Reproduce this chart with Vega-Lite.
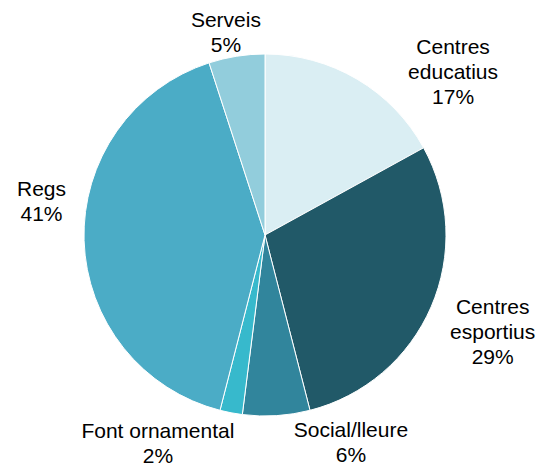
{
  "$schema": "https://vega.github.io/schema/vega-lite/v6.json",
  "width": 530,
  "height": 470,
  "autosize": "none",
  "padding": {"left": 0, "top": 0, "right": 7, "bottom": 0},
  "background": "white",
  "data": {
    "values": [
      {"cat": "Centres educatius", "label": ["Centres", "educatius", "17%"], "pct": 17, "ord": 1},
      {"cat": "Centres esportius", "label": ["Centres", "esportius", "29%"], "pct": 29, "ord": 2},
      {"cat": "Social/lleure", "label": ["Social/lleure", "6%"], "pct": 6, "ord": 3},
      {"cat": "Font ornamental", "label": ["Font ornamental", "2%"], "pct": 2, "ord": 4},
      {"cat": "Regs", "label": ["Regs", "41%"], "pct": 41, "ord": 5},
      {"cat": "Serveis", "label": ["Serveis", "5%"], "pct": 5, "ord": 6}
    ]
  },
  "transform": [
    {"stack": "pct", "groupby": [], "sort": [{"field": "ord"}], "as": ["p0", "p1"]}
  ],
  "encoding": {
    "theta": {"field": "p0", "type": "quantitative", "scale": {"domain": [0, 100]}}
  },
  "layer": [
    {
      "mark": {"type": "arc", "outerRadius": 181, "stroke": "white", "strokeWidth": 1},
      "encoding": {
        "theta2": {"field": "p1"},
        "color": {
          "field": "cat",
          "type": "nominal",
          "scale": {
            "domain": ["Centres educatius", "Centres esportius", "Social/lleure", "Font ornamental", "Regs", "Serveis"],
            "range": ["#DAEEF3", "#215968", "#31859C", "#37B9CC", "#4BACC6", "#92CDDC"]
          },
          "legend": null
        }
      }
    },
    {
      "transform": [{"filter": "datum.cat === 'Centres educatius'"}],
      "mark": {"type": "text", "radius": 265, "thetaOffset": 0.789, "font": "Liberation Sans", "fontSize": 21, "lineHeight": 25, "color": "black", "baseline": "middle"},
      "encoding": {"text": {"field": "label"}}
    },
    {
      "transform": [{"filter": "datum.cat === 'Centres esportius'"}],
      "mark": {"type": "text", "radius": 239, "thetaOffset": 0.812, "font": "Liberation Sans", "fontSize": 21, "lineHeight": 25, "color": "black", "baseline": "middle"},
      "encoding": {"text": {"field": "label"}}
    },
    {
      "transform": [{"filter": "datum.cat === 'Social/lleure'"}],
      "mark": {"type": "text", "radius": 214, "thetaOffset": -0.162, "font": "Liberation Sans", "fontSize": 21, "lineHeight": 25, "color": "black", "baseline": "middle"},
      "encoding": {"text": {"field": "label"}}
    },
    {
      "transform": [{"filter": "datum.cat === 'Font ornamental'"}],
      "mark": {"type": "text", "radius": 224, "thetaOffset": 0.373, "font": "Liberation Sans", "fontSize": 21, "lineHeight": 25, "color": "black", "baseline": "middle"},
      "encoding": {"text": {"field": "label"}}
    },
    {
      "transform": [{"filter": "datum.cat === 'Regs'"}],
      "mark": {"type": "text", "radius": 228, "thetaOffset": 1.518, "font": "Liberation Sans", "fontSize": 21, "lineHeight": 25, "color": "black", "baseline": "middle"},
      "encoding": {"text": {"field": "label"}}
    },
    {
      "transform": [{"filter": "datum.cat === 'Serveis'"}],
      "mark": {"type": "text", "radius": 218, "thetaOffset": 0.134, "font": "Liberation Sans", "fontSize": 21, "lineHeight": 25, "color": "black", "baseline": "middle"},
      "encoding": {"text": {"field": "label"}}
    }
  ]
}
